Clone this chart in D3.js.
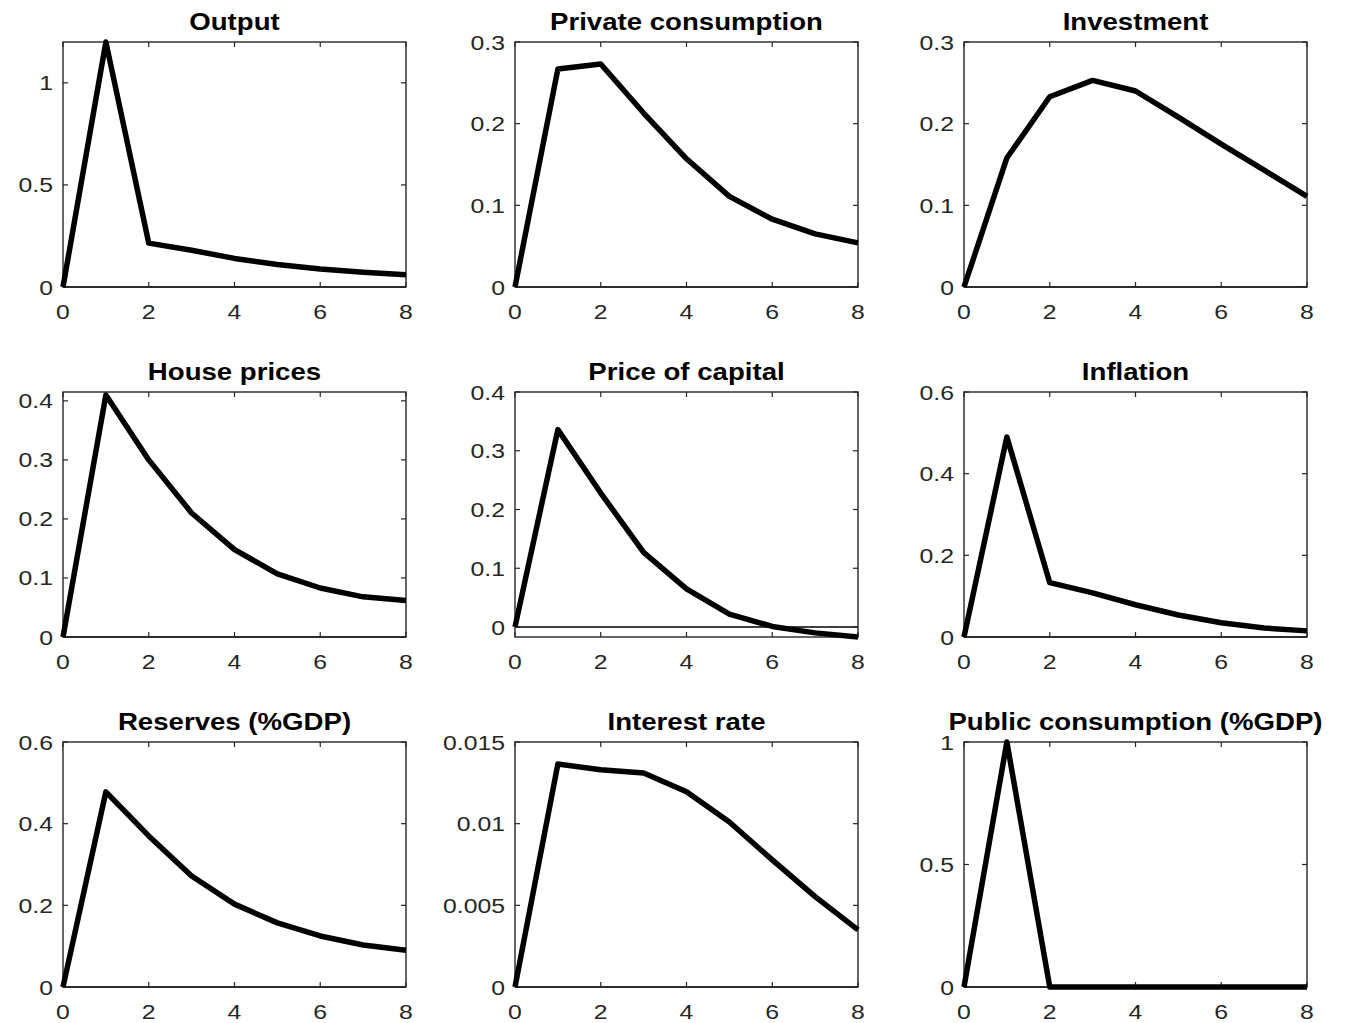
<!DOCTYPE html>
<html>
<head>
<meta charset="utf-8">
<script src="https://cdn.jsdelivr.net/npm/d3@7"></script>
<style>
  body { margin: 0; background: #fff; }
  text { font-family: "Liberation Sans", Arial, sans-serif; }
</style>
</head>
<body>
<script>
// horizons 0..8
var periods = [0, 1, 2, 3, 4, 5, 6, 7, 8];
var xTicks = [0, 2, 4, 6, 8];

var titles = ["Output", "Private consumption", "Investment",
	"House prices", "Price of capital", "Inflation",
	"Reserves (%GDP)", "Interest rate", "Public consumption (%GDP)"];

var output = [0, 1.2, 0.215, 0.18, 0.14, 0.11, 0.088, 0.072, 0.06];
var privCons = [0, 0.267, 0.273, 0.213, 0.157, 0.111, 0.083, 0.065, 0.054];
var investment = [0, 0.158, 0.233, 0.253, 0.24, 0.208, 0.175, 0.143, 0.111];
var housePrices = [0, 0.41, 0.3, 0.21, 0.148, 0.107, 0.083, 0.068, 0.062];
var priceCapital = [0, 0.336, 0.228, 0.127, 0.065, 0.022, 0.001, -0.01, -0.017];
var inflation = [0, 0.49, 0.133, 0.108, 0.079, 0.054, 0.035, 0.022, 0.015];
var reserves = [0, 0.478, 0.37, 0.272, 0.203, 0.157, 0.125, 0.103, 0.09];
var interestRate = [0, 0.01365, 0.0133, 0.0131, 0.01196, 0.0101, 0.00778, 0.00553, 0.0035];
var publicCons = [0, 1, 0, 0, 0, 0, 0, 0, 0];

var series = [output, privCons, investment, housePrices, priceCapital,
	inflation, reserves, interestRate, publicCons];

var yDomains = [[0, 1.2], [0, 0.3], [0, 0.3],
	[0, 0.415], [-0.017, 0.4], [0, 0.6],
	[0, 0.6], [0, 0.015], [0, 1]];

var yTicks = [[0, 0.5, 1], [0, 0.1, 0.2, 0.3], [0, 0.1, 0.2, 0.3],
	[0, 0.1, 0.2, 0.3, 0.4], [0, 0.1, 0.2, 0.3, 0.4], [0, 0.2, 0.4, 0.6],
	[0, 0.2, 0.4, 0.6], [0, 0.005, 0.01, 0.015], [0, 0.5, 1]];

var colLeft = [63, 515, 964];
var rowTop = [42, 392, 742];
var pw = 343, ph = 245;
var sx = 1.18;
var tickCol = "#262626";

var svg = d3.select("body").append("svg")
	.attr("width", 1347)
	.attr("height", 1023);

var fmt = d3.format("~g");

series.forEach(function(vals, i) {
	var col = i % 3, row = Math.floor(i / 3);
	var g = svg.append("g")
		.attr("transform", "translate(" + colLeft[col] + "," + rowTop[row] + ")");

	var x = d3.scaleLinear().domain([0, 8]).range([0, pw]);
	var y = d3.scaleLinear().domain(yDomains[i]).range([ph, 0]);

	// zero line
	g.append("line")
		.attr("x1", 0).attr("x2", pw)
		.attr("y1", y(0)).attr("y2", y(0))
		.attr("stroke", "#000")
		.attr("stroke-width", 1.3);

	// ticks, inside on all four sides
	xTicks.forEach(function(t) {
		g.append("line").attr("x1", x(t)).attr("x2", x(t))
			.attr("y1", ph).attr("y2", ph - 5)
			.attr("stroke", tickCol).attr("stroke-width", 1.2);
		g.append("line").attr("x1", x(t)).attr("x2", x(t))
			.attr("y1", 0).attr("y2", 5)
			.attr("stroke", tickCol).attr("stroke-width", 1.2);
		g.append("text")
			.attr("transform", "translate(" + x(t) + "," + (ph + 32) + ") scale(" + sx + ",1)")
			.attr("text-anchor", "middle")
			.attr("font-size", 21)
			.attr("fill", tickCol)
			.text(t);
	});
	yTicks[i].forEach(function(t) {
		g.append("line").attr("x1", 0).attr("x2", 5)
			.attr("y1", y(t)).attr("y2", y(t))
			.attr("stroke", tickCol).attr("stroke-width", 1.2);
		g.append("line").attr("x1", pw).attr("x2", pw - 5)
			.attr("y1", y(t)).attr("y2", y(t))
			.attr("stroke", tickCol).attr("stroke-width", 1.2);
		g.append("text")
			.attr("transform", "translate(-10," + (y(t) + 7.5) + ") scale(" + sx + ",1)")
			.attr("text-anchor", "end")
			.attr("font-size", 21)
			.attr("fill", tickCol)
			.text(fmt(t));
	});

	// box
	g.append("rect")
		.attr("width", pw).attr("height", ph)
		.attr("fill", "none")
		.attr("stroke", tickCol)
		.attr("stroke-width", 1.4);

	var line = d3.line()
		.x(function(d, j) { return x(periods[j]); })
		.y(function(d) { return y(d); });

	g.append("path")
		.datum(vals)
		.attr("d", line)
		.attr("fill", "none")
		.attr("stroke", "#000")
		.attr("stroke-width", 5.5)
		.attr("stroke-linejoin", "round");

	g.append("text")
		.attr("transform", "translate(" + (pw / 2) + ",-12) scale(" + 1.15 + ",1)")
		.attr("text-anchor", "middle")
		.attr("font-size", 24)
		.attr("font-weight", "bold")
		.attr("fill", "#000")
		.text(titles[i]);
});
</script>
</body>
</html>
